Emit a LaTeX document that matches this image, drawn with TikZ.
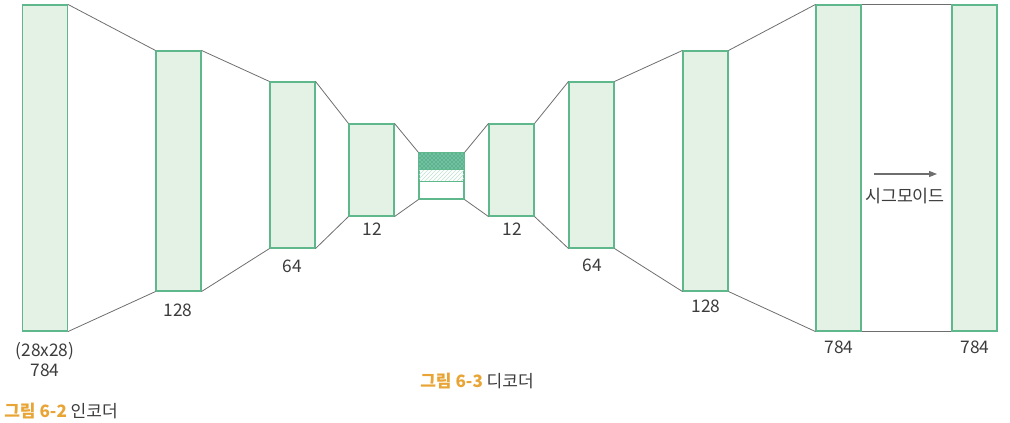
\documentclass[tikz,border=0pt]{standalone}
\usepackage{fontspec}
\setmainfont{Noto Sans CJK KR}
\usetikzlibrary{patterns,arrows.meta}
\definecolor{boxfill}{HTML}{E3F2E5}
\definecolor{boxline}{HTML}{5FB88C}
\definecolor{conn}{HTML}{6E6E6E}
\definecolor{txt}{HTML}{3C3C3C}
\definecolor{cap}{HTML}{E8A536}
\definecolor{dark}{HTML}{3FAE80}
\tikzset{
  layer/.style={draw=boxline, fill=boxfill, line width=0.8pt, inner sep=0pt, minimum width=33.75pt},
  link/.style={draw=conn, line width=0.6pt},
  lbl/.style={text=txt, font=\fontsize{13pt}{15pt}\selectfont, inner sep=0pt},
  captxt/.style={text=txt, font=\fontsize{12.8pt}{15pt}\selectfont, inner sep=0pt, anchor=west},
}
\begin{document}
\begin{tikzpicture}[x=0.75pt,y=-0.75pt]
\useasboundingbox (0,0) rectangle (1010,422);
% layers (pixel coords, y down)
\node[layer, minimum height=244.5pt] (e1) at (45,168) {};
\node[layer, minimum height=180pt] (e2) at (178.5,171) {};
\node[layer, minimum height=124.5pt] (e3) at (292.5,165) {};
\node[layer, minimum height=69pt] (e4) at (371.5,170) {};
\node[layer, fill=white, minimum height=34.5pt] (z) at (441.5,176) {};
\node[layer, minimum height=69pt] (d4) at (511.5,170) {};
\node[layer, minimum height=124.5pt] (d3) at (591.5,165) {};
\node[layer, minimum height=180pt] (d2) at (705.5,171) {};
\node[layer, minimum height=244.5pt] (d1) at (838.5,168) {};
\node[layer, minimum height=244.5pt] (out) at (974.5,168) {};
% bottleneck fill
\fill[dark!75] (z.north west) rectangle ([yshift=-12.5pt]z.north east);
\fill[pattern=crosshatch dots, pattern color=dark!70!black] (z.north west) rectangle ([yshift=-12.5pt]z.north east);
\fill[pattern=north east lines, pattern color=boxline!40] ([yshift=-12.5pt]z.north west) rectangle ([yshift=-22pt]z.north east);
\draw[boxline, line width=0.8pt] ([yshift=-12.5pt]z.north west) -- ([yshift=-12.5pt]z.north east);
\draw[boxline, line width=0.8pt] ([yshift=-22pt]z.north west) -- ([yshift=-22pt]z.north east);
\draw[boxline, line width=0.8pt] (z.north west) rectangle (z.south east);
% connectors
\foreach \a/\b in {e1/e2,e2/e3,e3/e4,e4/z,z/d4,d4/d3,d3/d2,d2/d1,d1/out}{
  \draw[link] (\a.north east) -- (\b.north west);
  \draw[link] (\a.south east) -- (\b.south west);
}
% labels
\node[lbl, align=center] (l1) at (45,360) {(28x28)\\784};
\node[lbl] (l2) at (178,310) {128};
\node[lbl] (l3) at (292,266) {64};
\node[lbl] (l4) at (372,229) {12};
\node[lbl] (l5) at (512,229) {12};
\node[lbl] (l6) at (592,265) {64};
\node[lbl] (l7) at (706,306) {128};
\node[lbl] (l8) at (839,347) {784};
\node[lbl] (l9) at (975,347) {784};
% sigmoid
\coordinate (sa) at (874,174);
\coordinate (sb) at (937,174);
\draw[conn, line width=0.8pt, -{Triangle[length=6pt,width=4.5pt]}] (sa) -- (sb);
\node[lbl] (sig) at (905,196) {시그모이드};
% captions
\node[captxt] (c2) at (4,411) {\textcolor{cap}{\bfseries 그림 6-2} 인코더};
\node[captxt] (c3) at (420,381) {\textcolor{cap}{\bfseries 그림 6-3} 디코더};
\end{tikzpicture}
\end{document}
